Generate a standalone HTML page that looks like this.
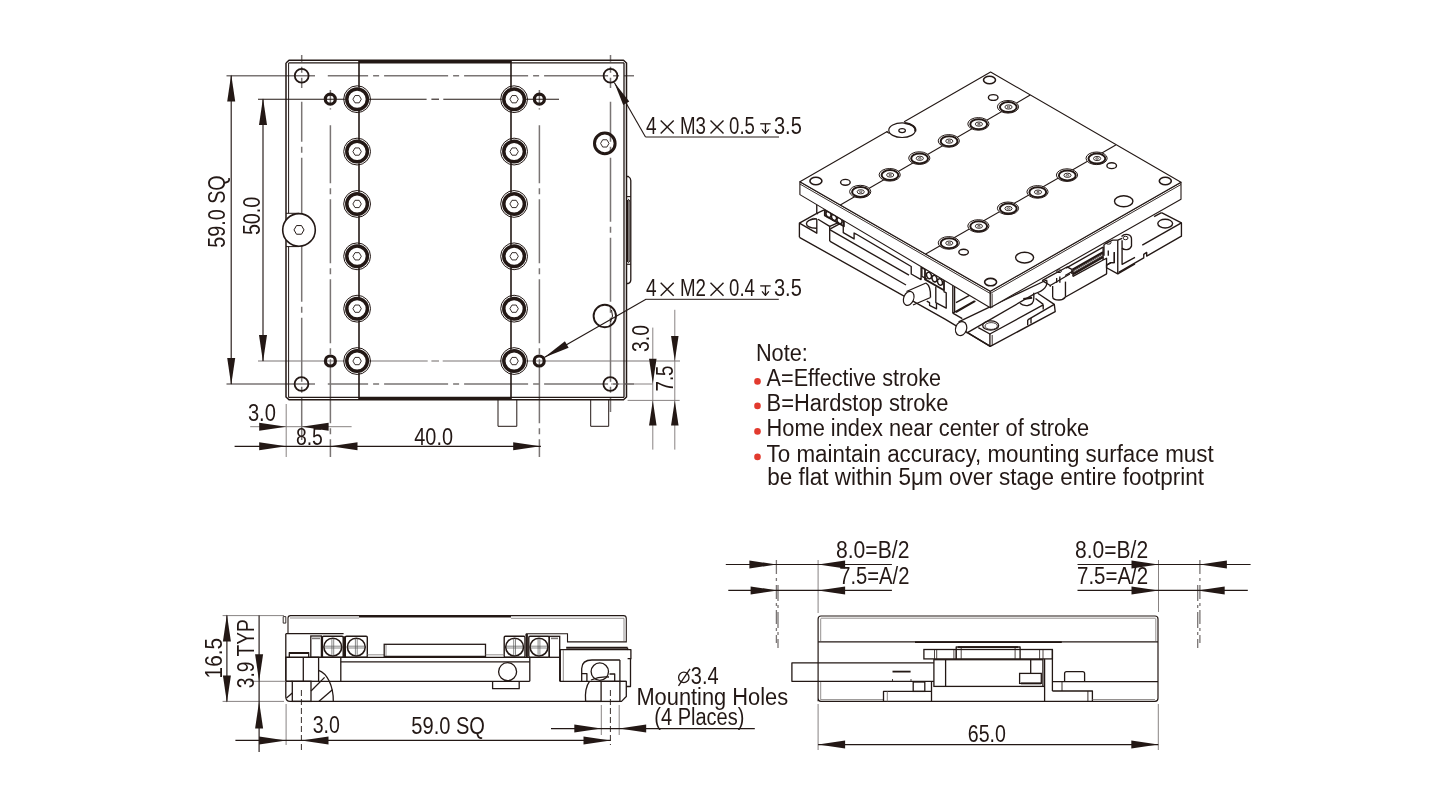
<!DOCTYPE html>
<html><head><meta charset="utf-8"><style>
html,body{margin:0;padding:0;background:#fff;overflow:hidden;width:1438px;height:812px;}
svg{display:block;will-change:transform;}
text{font-family:"Liberation Sans",sans-serif;}
</style></head><body>
<svg width="1438" height="812" viewBox="0 0 1438 812">
<rect width="1438" height="812" fill="#fff"/>
<line x1="301.70" y1="55.00" x2="301.70" y2="88.00" stroke="#7a7574" stroke-width="1.5" stroke-dasharray="64 5 6 5" stroke-dashoffset="57.2"/>
<line x1="301.70" y1="101.70" x2="301.70" y2="440.00" stroke="#7a7574" stroke-width="1.5" stroke-dasharray="64 5 6 5" stroke-dashoffset="23.9"/>
<line x1="610.50" y1="55.00" x2="610.50" y2="88.00" stroke="#7a7574" stroke-width="1.5" stroke-dasharray="64 5 6 5" stroke-dashoffset="57.2"/>
<line x1="610.50" y1="101.70" x2="610.50" y2="412.00" stroke="#7a7574" stroke-width="1.5" stroke-dasharray="64 5 6 5" stroke-dashoffset="23.9"/>
<line x1="330.40" y1="90.00" x2="330.40" y2="109.60" stroke="#7a7574" stroke-width="1.5" stroke-dasharray="64 5 6 5" stroke-dashoffset="50.8"/>
<line x1="330.40" y1="125.30" x2="330.40" y2="457.00" stroke="#7a7574" stroke-width="1.5" stroke-dasharray="64 5 6 5" stroke-dashoffset="6.1"/>
<line x1="539.40" y1="90.00" x2="539.40" y2="109.60" stroke="#7a7574" stroke-width="1.5" stroke-dasharray="64 5 6 5" stroke-dashoffset="50.8"/>
<line x1="539.40" y1="125.30" x2="539.40" y2="457.00" stroke="#7a7574" stroke-width="1.5" stroke-dasharray="64 5 6 5" stroke-dashoffset="6.1"/>
<line x1="327.80" y1="75.70" x2="634.00" y2="75.70" stroke="#7a7574" stroke-width="1.5" stroke-dasharray="64 5 6 5" stroke-dashoffset="23.7"/>
<line x1="327.80" y1="384.00" x2="634.00" y2="384.00" stroke="#7a7574" stroke-width="1.5" stroke-dasharray="64 5 6 5" stroke-dashoffset="23.7"/>
<line x1="226.50" y1="75.70" x2="315.00" y2="75.70" stroke="#7a7574" stroke-width="1.4" />
<line x1="226.50" y1="384.00" x2="315.00" y2="384.00" stroke="#7a7574" stroke-width="1.4" />
<line x1="258.00" y1="99.20" x2="426.60" y2="99.20" stroke="#231815" stroke-width="1.1" />
<line x1="431.40" y1="99.20" x2="439.00" y2="99.20" stroke="#231815" stroke-width="1.1" />
<line x1="443.30" y1="99.20" x2="559.00" y2="99.20" stroke="#231815" stroke-width="1.1" />
<line x1="258.00" y1="361.00" x2="427.70" y2="361.00" stroke="#7a7574" stroke-width="1.1" />
<line x1="431.40" y1="361.00" x2="439.00" y2="361.00" stroke="#7a7574" stroke-width="1.1" />
<line x1="442.70" y1="361.00" x2="680.00" y2="361.00" stroke="#7a7574" stroke-width="1.1" />
<polyline points="286.00,63.00 289.00,60.30 623.50,60.30 626.50,63.00 626.50,397.00 623.50,399.80 289.00,399.80 286.00,397.00 286.00,63.00" fill="none" stroke="#231815" stroke-width="1.5" stroke-linejoin="round" />
<line x1="288.60" y1="63.00" x2="288.60" y2="213.30" stroke="#231815" stroke-width="1.0" />
<line x1="288.60" y1="246.60" x2="288.60" y2="397.50" stroke="#231815" stroke-width="1.0" />
<line x1="286.00" y1="213.30" x2="299.00" y2="213.30" stroke="#231815" stroke-width="1.0" />
<line x1="286.00" y1="246.60" x2="299.00" y2="246.60" stroke="#231815" stroke-width="1.0" />
<line x1="288.60" y1="62.90" x2="624.00" y2="62.90" stroke="#231815" stroke-width="1.3" />
<line x1="624.00" y1="62.90" x2="624.00" y2="397.30" stroke="#231815" stroke-width="1.3" />
<line x1="288.60" y1="397.30" x2="624.00" y2="397.30" stroke="#231815" stroke-width="1.3" />
<line x1="359.00" y1="61.80" x2="511.00" y2="61.80" stroke="#231815" stroke-width="2.4" />
<line x1="359.00" y1="398.40" x2="511.00" y2="398.40" stroke="#231815" stroke-width="2.4" />
<line x1="359.00" y1="60.50" x2="359.00" y2="399.50" stroke="#231815" stroke-width="1.6" />
<line x1="511.00" y1="60.50" x2="511.00" y2="399.50" stroke="#231815" stroke-width="1.6" />
<circle cx="357.10" cy="99.20" r="11.80" fill="#fff" stroke="#231815" stroke-width="0"/>
<circle cx="357.10" cy="99.20" r="13.40" fill="none" stroke="#231815" stroke-width="1.0"/>
<circle cx="357.10" cy="99.20" r="10.30" fill="none" stroke="#231815" stroke-width="3.5"/>
<polygon points="361.30,99.20 359.20,102.84 355.00,102.84 352.90,99.20 355.00,95.56 359.20,95.56" fill="none" stroke="#231815" stroke-width="0.9" stroke-linejoin="round" />
<circle cx="514.10" cy="99.20" r="11.80" fill="#fff" stroke="#231815" stroke-width="0"/>
<circle cx="514.10" cy="99.20" r="13.40" fill="none" stroke="#231815" stroke-width="1.0"/>
<circle cx="514.10" cy="99.20" r="10.30" fill="none" stroke="#231815" stroke-width="3.5"/>
<polygon points="518.30,99.20 516.20,102.84 512.00,102.84 509.90,99.20 512.00,95.56 516.20,95.56" fill="none" stroke="#231815" stroke-width="0.9" stroke-linejoin="round" />
<circle cx="357.10" cy="151.57" r="11.80" fill="#fff" stroke="#231815" stroke-width="0"/>
<circle cx="357.10" cy="151.57" r="13.40" fill="none" stroke="#231815" stroke-width="1.0"/>
<circle cx="357.10" cy="151.57" r="10.30" fill="none" stroke="#231815" stroke-width="3.5"/>
<polygon points="361.30,151.57 359.20,155.21 355.00,155.21 352.90,151.57 355.00,147.93 359.20,147.93" fill="none" stroke="#231815" stroke-width="0.9" stroke-linejoin="round" />
<circle cx="514.10" cy="151.57" r="11.80" fill="#fff" stroke="#231815" stroke-width="0"/>
<circle cx="514.10" cy="151.57" r="13.40" fill="none" stroke="#231815" stroke-width="1.0"/>
<circle cx="514.10" cy="151.57" r="10.30" fill="none" stroke="#231815" stroke-width="3.5"/>
<polygon points="518.30,151.57 516.20,155.21 512.00,155.21 509.90,151.57 512.00,147.93 516.20,147.93" fill="none" stroke="#231815" stroke-width="0.9" stroke-linejoin="round" />
<circle cx="357.10" cy="203.94" r="11.80" fill="#fff" stroke="#231815" stroke-width="0"/>
<circle cx="357.10" cy="203.94" r="13.40" fill="none" stroke="#231815" stroke-width="1.0"/>
<circle cx="357.10" cy="203.94" r="10.30" fill="none" stroke="#231815" stroke-width="3.5"/>
<polygon points="361.30,203.94 359.20,207.58 355.00,207.58 352.90,203.94 355.00,200.30 359.20,200.30" fill="none" stroke="#231815" stroke-width="0.9" stroke-linejoin="round" />
<circle cx="514.10" cy="203.94" r="11.80" fill="#fff" stroke="#231815" stroke-width="0"/>
<circle cx="514.10" cy="203.94" r="13.40" fill="none" stroke="#231815" stroke-width="1.0"/>
<circle cx="514.10" cy="203.94" r="10.30" fill="none" stroke="#231815" stroke-width="3.5"/>
<polygon points="518.30,203.94 516.20,207.58 512.00,207.58 509.90,203.94 512.00,200.30 516.20,200.30" fill="none" stroke="#231815" stroke-width="0.9" stroke-linejoin="round" />
<circle cx="357.10" cy="256.31" r="11.80" fill="#fff" stroke="#231815" stroke-width="0"/>
<circle cx="357.10" cy="256.31" r="13.40" fill="none" stroke="#231815" stroke-width="1.0"/>
<circle cx="357.10" cy="256.31" r="10.30" fill="none" stroke="#231815" stroke-width="3.5"/>
<polygon points="361.30,256.31 359.20,259.95 355.00,259.95 352.90,256.31 355.00,252.67 359.20,252.67" fill="none" stroke="#231815" stroke-width="0.9" stroke-linejoin="round" />
<circle cx="514.10" cy="256.31" r="11.80" fill="#fff" stroke="#231815" stroke-width="0"/>
<circle cx="514.10" cy="256.31" r="13.40" fill="none" stroke="#231815" stroke-width="1.0"/>
<circle cx="514.10" cy="256.31" r="10.30" fill="none" stroke="#231815" stroke-width="3.5"/>
<polygon points="518.30,256.31 516.20,259.95 512.00,259.95 509.90,256.31 512.00,252.67 516.20,252.67" fill="none" stroke="#231815" stroke-width="0.9" stroke-linejoin="round" />
<circle cx="357.10" cy="308.68" r="11.80" fill="#fff" stroke="#231815" stroke-width="0"/>
<circle cx="357.10" cy="308.68" r="13.40" fill="none" stroke="#231815" stroke-width="1.0"/>
<circle cx="357.10" cy="308.68" r="10.30" fill="none" stroke="#231815" stroke-width="3.5"/>
<polygon points="361.30,308.68 359.20,312.32 355.00,312.32 352.90,308.68 355.00,305.04 359.20,305.04" fill="none" stroke="#231815" stroke-width="0.9" stroke-linejoin="round" />
<circle cx="514.10" cy="308.68" r="11.80" fill="#fff" stroke="#231815" stroke-width="0"/>
<circle cx="514.10" cy="308.68" r="13.40" fill="none" stroke="#231815" stroke-width="1.0"/>
<circle cx="514.10" cy="308.68" r="10.30" fill="none" stroke="#231815" stroke-width="3.5"/>
<polygon points="518.30,308.68 516.20,312.32 512.00,312.32 509.90,308.68 512.00,305.04 516.20,305.04" fill="none" stroke="#231815" stroke-width="0.9" stroke-linejoin="round" />
<circle cx="357.10" cy="361.05" r="11.80" fill="#fff" stroke="#231815" stroke-width="0"/>
<circle cx="357.10" cy="361.05" r="13.40" fill="none" stroke="#231815" stroke-width="1.0"/>
<circle cx="357.10" cy="361.05" r="10.30" fill="none" stroke="#231815" stroke-width="3.5"/>
<polygon points="361.30,361.05 359.20,364.69 355.00,364.69 352.90,361.05 355.00,357.41 359.20,357.41" fill="none" stroke="#231815" stroke-width="0.9" stroke-linejoin="round" />
<circle cx="514.10" cy="361.05" r="11.80" fill="#fff" stroke="#231815" stroke-width="0"/>
<circle cx="514.10" cy="361.05" r="13.40" fill="none" stroke="#231815" stroke-width="1.0"/>
<circle cx="514.10" cy="361.05" r="10.30" fill="none" stroke="#231815" stroke-width="3.5"/>
<polygon points="518.30,361.05 516.20,364.69 512.00,364.69 509.90,361.05 512.00,357.41 516.20,357.41" fill="none" stroke="#231815" stroke-width="0.9" stroke-linejoin="round" />
<circle cx="301.70" cy="75.70" r="6.90" fill="none" stroke="#231815" stroke-width="1.8"/>
<circle cx="610.50" cy="75.70" r="6.90" fill="none" stroke="#231815" stroke-width="1.8"/>
<circle cx="301.50" cy="384.00" r="6.90" fill="none" stroke="#231815" stroke-width="1.8"/>
<circle cx="610.30" cy="384.00" r="6.90" fill="none" stroke="#231815" stroke-width="1.8"/>
<circle cx="330.30" cy="99.20" r="5.00" fill="none" stroke="#231815" stroke-width="3.2"/>
<circle cx="539.40" cy="99.20" r="5.00" fill="none" stroke="#231815" stroke-width="3.2"/>
<circle cx="330.40" cy="361.00" r="5.00" fill="none" stroke="#231815" stroke-width="3.2"/>
<circle cx="539.20" cy="361.00" r="5.00" fill="none" stroke="#231815" stroke-width="3.2"/>
<circle cx="604.80" cy="143.40" r="10.30" fill="none" stroke="#231815" stroke-width="3.0"/>
<polygon points="609.00,143.40 606.90,147.04 602.70,147.04 600.60,143.40 602.70,139.76 606.90,139.76" fill="none" stroke="#231815" stroke-width="0.9" stroke-linejoin="round" />
<circle cx="604.80" cy="316.00" r="11.20" fill="none" stroke="#231815" stroke-width="1.9"/>
<path d="M611.5,310 Q614,316 610.5,322" fill="none" stroke="#231815" stroke-width="1.0" />
<circle cx="299.00" cy="229.90" r="16.30" fill="#fff" stroke="#231815" stroke-width="1.6"/>
<polygon points="304.00,229.90 301.50,234.23 296.50,234.23 294.00,229.90 296.50,225.57 301.50,225.57" fill="none" stroke="#231815" stroke-width="1.0" stroke-linejoin="round" />
<path d="M626.5,176.5 L628.3,176.5 Q630.8,177.8 630.8,180.5 L630.8,280 Q630.8,282.5 628.3,283.5 L626.5,283.5" fill="none" stroke="#231815" stroke-width="1.3" />
<line x1="626.50" y1="196.60" x2="630.80" y2="196.60" stroke="#231815" stroke-width="1.1" />
<line x1="626.50" y1="264.30" x2="630.80" y2="264.30" stroke="#231815" stroke-width="1.1" />
<line x1="627.60" y1="200.00" x2="627.60" y2="262.00" stroke="#231815" stroke-width="2.0" />
<path d="M628,199 Q629.8,199.5 629.8,202 L629.8,260 Q629.8,262.5 628,263" fill="none" stroke="#231815" stroke-width="0.9" />
<polyline points="498.00,399.80 498.00,426.30 516.80,426.30 516.80,399.80" fill="none" stroke="#231815" stroke-width="1.0" stroke-linejoin="round" />
<polyline points="590.70,399.80 590.70,426.30 608.70,426.30 608.70,399.80" fill="none" stroke="#231815" stroke-width="1.0" stroke-linejoin="round" />
<line x1="231.20" y1="75.70" x2="231.20" y2="384.00" stroke="#231815" stroke-width="1.15" />
<polygon points="231.20,74.50 235.20,101.50 227.20,101.50" fill="#231815"/>
<polygon points="231.20,385.00 227.20,358.00 235.20,358.00" fill="#231815"/>
<line x1="263.00" y1="99.20" x2="263.00" y2="361.00" stroke="#231815" stroke-width="1.15" />
<polygon points="263.00,98.00 267.00,125.00 259.00,125.00" fill="#231815"/>
<polygon points="263.00,362.00 259.00,335.00 267.00,335.00" fill="#231815"/>
<text x="224.80" y="211.00" font-size="23.00" fill="#231815" text-anchor="middle" textLength="72.4" lengthAdjust="spacingAndGlyphs" transform="rotate(-90 225.30 211.00)" >59.0 SQ</text>
<text x="259.10" y="215.40" font-size="23.00" fill="#231815" text-anchor="middle" textLength="38.4" lengthAdjust="spacingAndGlyphs" transform="rotate(-90 259.60 215.40)" >50.0</text>
<line x1="286.20" y1="404.00" x2="286.20" y2="457.00" stroke="#7a7574" stroke-width="0.9" />
<line x1="250.20" y1="426.70" x2="351.60" y2="426.70" stroke="#7a7574" stroke-width="0.9" />
<polygon points="286.20,426.70 259.20,430.70 259.20,422.70" fill="#231815"/>
<polygon points="301.60,426.70 328.60,422.70 328.60,430.70" fill="#231815"/>
<line x1="234.60" y1="446.40" x2="540.90" y2="446.40" stroke="#231815" stroke-width="1.2" />
<polygon points="286.20,446.20 259.20,450.20 259.20,442.20" fill="#231815"/>
<polygon points="330.50,446.20 357.50,442.20 357.50,450.20" fill="#231815"/>
<polygon points="540.20,446.20 513.20,450.20 513.20,442.20" fill="#231815"/>
<text x="247.90" y="420.50" font-size="23.00" fill="#231815" text-anchor="start" textLength="28.0" lengthAdjust="spacingAndGlyphs" >3.0</text>
<text x="295.90" y="444.50" font-size="23.00" fill="#231815" text-anchor="start" textLength="27.0" lengthAdjust="spacingAndGlyphs" >8.5</text>
<text x="414.30" y="444.50" font-size="23.00" fill="#231815" text-anchor="start" textLength="38.7" lengthAdjust="spacingAndGlyphs" >40.0</text>
<line x1="652.80" y1="327.60" x2="652.80" y2="449.60" stroke="#7a7574" stroke-width="0.9" />
<line x1="674.80" y1="309.80" x2="674.80" y2="449.60" stroke="#7a7574" stroke-width="0.9" />
<line x1="611.00" y1="384.00" x2="652.80" y2="384.00" stroke="#7a7574" stroke-width="0.9" />
<line x1="627.60" y1="400.40" x2="679.70" y2="400.40" stroke="#7a7574" stroke-width="0.9" />
<polygon points="652.80,383.70 649.05,358.70 656.55,358.70" fill="#231815"/>
<polygon points="652.80,400.40 656.55,425.40 649.05,425.40" fill="#231815"/>
<polygon points="674.80,361.00 671.05,336.00 678.55,336.00" fill="#231815"/>
<polygon points="674.80,400.40 678.55,425.40 671.05,425.40" fill="#231815"/>
<text x="648.70" y="338.00" font-size="23.00" fill="#231815" text-anchor="middle" textLength="27.0" lengthAdjust="spacingAndGlyphs" transform="rotate(-90 649.20 338.00)" >3.0</text>
<text x="672.70" y="378.00" font-size="23.00" fill="#231815" text-anchor="middle" textLength="26.0" lengthAdjust="spacingAndGlyphs" transform="rotate(-90 673.20 378.00)" >7.5</text>
<line x1="645.50" y1="137.00" x2="614.30" y2="82.50" stroke="#231815" stroke-width="1.1" />
<polygon points="614.30,82.50 629.26,101.59 623.19,105.07" fill="#231815"/>
<line x1="645.50" y1="137.00" x2="779.00" y2="137.00" stroke="#231815" stroke-width="1.0" />
<line x1="646.00" y1="299.30" x2="544.20" y2="357.50" stroke="#231815" stroke-width="1.1" />
<polygon points="544.20,357.50 564.91,341.34 568.63,347.85" fill="#231815"/>
<line x1="645.80" y1="299.30" x2="778.80" y2="299.30" stroke="#231815" stroke-width="1.0" />
<text x="646.10" y="134.30" font-size="23.00" fill="#231815" text-anchor="start" textLength="10.6" lengthAdjust="spacingAndGlyphs" >4</text>
<line x1="660.70" y1="120.60" x2="673.70" y2="133.60" stroke="#231815" stroke-width="1.4" />
<line x1="660.70" y1="133.60" x2="673.70" y2="120.60" stroke="#231815" stroke-width="1.4" />
<text x="680.00" y="134.30" font-size="23.00" fill="#231815" text-anchor="start" textLength="26.0" lengthAdjust="spacingAndGlyphs" >M3</text>
<line x1="710.50" y1="120.60" x2="723.50" y2="133.60" stroke="#231815" stroke-width="1.4" />
<line x1="710.50" y1="133.60" x2="723.50" y2="120.60" stroke="#231815" stroke-width="1.4" />
<text x="729.10" y="134.30" font-size="23.00" fill="#231815" text-anchor="start" textLength="25.8" lengthAdjust="spacingAndGlyphs" >0.5</text>
<line x1="760.20" y1="123.80" x2="770.70" y2="123.80" stroke="#231815" stroke-width="1.3" />
<line x1="765.45" y1="123.80" x2="765.45" y2="133.30" stroke="#231815" stroke-width="1.3" />
<polyline points="762.00,129.30 765.45,133.30 768.90,129.30" fill="none" stroke="#231815" stroke-width="1.3" stroke-linejoin="round" />
<text x="774.00" y="134.30" font-size="23.00" fill="#231815" text-anchor="start" textLength="27.8" lengthAdjust="spacingAndGlyphs" >3.5</text>
<text x="646.10" y="296.40" font-size="23.00" fill="#231815" text-anchor="start" textLength="10.6" lengthAdjust="spacingAndGlyphs" >4</text>
<line x1="660.70" y1="282.70" x2="673.70" y2="295.70" stroke="#231815" stroke-width="1.4" />
<line x1="660.70" y1="295.70" x2="673.70" y2="282.70" stroke="#231815" stroke-width="1.4" />
<text x="680.00" y="296.40" font-size="23.00" fill="#231815" text-anchor="start" textLength="26.0" lengthAdjust="spacingAndGlyphs" >M2</text>
<line x1="710.50" y1="282.70" x2="723.50" y2="295.70" stroke="#231815" stroke-width="1.4" />
<line x1="710.50" y1="295.70" x2="723.50" y2="282.70" stroke="#231815" stroke-width="1.4" />
<text x="729.10" y="296.40" font-size="23.00" fill="#231815" text-anchor="start" textLength="25.8" lengthAdjust="spacingAndGlyphs" >0.4</text>
<line x1="760.20" y1="285.90" x2="770.70" y2="285.90" stroke="#231815" stroke-width="1.3" />
<line x1="765.45" y1="285.90" x2="765.45" y2="295.40" stroke="#231815" stroke-width="1.3" />
<polyline points="762.00,291.40 765.45,295.40 768.90,291.40" fill="none" stroke="#231815" stroke-width="1.3" stroke-linejoin="round" />
<text x="774.00" y="296.40" font-size="23.00" fill="#231815" text-anchor="start" textLength="27.8" lengthAdjust="spacingAndGlyphs" >3.5</text>
<text x="755.90" y="361.40" font-size="23.00" fill="#231815" text-anchor="start" textLength="52.0" lengthAdjust="spacingAndGlyphs" >Note:</text>
<text x="766.60" y="386.10" font-size="23.00" fill="#231815" text-anchor="start" textLength="174.4" lengthAdjust="spacingAndGlyphs" >A=Effective stroke</text>
<circle cx="757.50" cy="381.40" r="3.30" fill="#e23a2e" stroke="#231815" stroke-width="0"/>
<text x="766.60" y="410.60" font-size="23.00" fill="#231815" text-anchor="start" textLength="181.9" lengthAdjust="spacingAndGlyphs" >B=Hardstop stroke</text>
<circle cx="757.50" cy="405.90" r="3.30" fill="#e23a2e" stroke="#231815" stroke-width="0"/>
<text x="766.60" y="436.10" font-size="23.00" fill="#231815" text-anchor="start" textLength="322.6" lengthAdjust="spacingAndGlyphs" >Home index near center of stroke</text>
<circle cx="757.50" cy="431.40" r="3.30" fill="#e23a2e" stroke="#231815" stroke-width="0"/>
<text x="766.60" y="461.60" font-size="23.00" fill="#231815" text-anchor="start" textLength="447.0" lengthAdjust="spacingAndGlyphs" >To maintain accuracy, mounting surface must</text>
<circle cx="757.50" cy="456.90" r="3.30" fill="#e23a2e" stroke="#231815" stroke-width="0"/>
<text x="767.30" y="484.80" font-size="23.00" fill="#231815" text-anchor="start" textLength="436.7" lengthAdjust="spacingAndGlyphs" >be flat within 5&#956;m over stage entire footprint</text>
<path d="M288,633.7 L288,618 Q288,615.6 290.5,615.6 L623.5,615.6 Q626.3,615.6 626.3,618.5 L626.3,641.9 L567.5,641.9 L567.5,633.7 L526.1,633.7" fill="none" stroke="#231815" stroke-width="1.1" />
<line x1="290.00" y1="618.00" x2="359.00" y2="618.00" stroke="#7a7574" stroke-width="0.8" />
<line x1="511.00" y1="618.30" x2="624.00" y2="618.30" stroke="#7a7574" stroke-width="0.8" />
<line x1="624.00" y1="618.30" x2="624.00" y2="641.00" stroke="#7a7574" stroke-width="0.8" />
<line x1="359.00" y1="616.40" x2="511.00" y2="616.40" stroke="#231815" stroke-width="2.0" />
<polyline points="283.20,616.60 285.80,616.60 285.80,623.10 283.20,623.10 283.20,616.60" fill="none" stroke="#231815" stroke-width="0.9" stroke-linejoin="round" />
<line x1="285.80" y1="633.70" x2="343.60" y2="633.70" stroke="#231815" stroke-width="1.3" />
<line x1="285.80" y1="633.70" x2="285.80" y2="697.00" stroke="#231815" stroke-width="1.3" />
<path d="M285.8,697 Q286,701.4 290,701.4 L601,701.4" fill="none" stroke="#231815" stroke-width="1.3" />
<line x1="285.80" y1="657.30" x2="529.80" y2="657.30" stroke="#231815" stroke-width="1.3" />
<polyline points="289.30,657.30 289.30,652.60 308.70,652.60 308.70,657.30" fill="none" stroke="#231815" stroke-width="1.3" stroke-linejoin="round" />
<line x1="289.30" y1="653.20" x2="308.70" y2="653.20" stroke="#231815" stroke-width="1.6" />
<rect x="310.80" y="636.00" width="10.60" height="21.30" fill="none" stroke="#231815" stroke-width="1.3"/>
<line x1="312.00" y1="638.40" x2="320.00" y2="638.40" stroke="#7a7574" stroke-width="1.6" />
<rect x="322.40" y="636.3" width="20.80" height="21" rx="1.2" fill="none" stroke="#231815" stroke-width="1.4"/>
<circle cx="332.80" cy="647.10" r="8.90" fill="none" stroke="#231815" stroke-width="1.6"/>
<line x1="324.30" y1="646.20" x2="341.30" y2="646.20" stroke="#555" stroke-width="0.7" />
<line x1="331.90" y1="638.60" x2="331.90" y2="655.60" stroke="#555" stroke-width="0.7" />
<line x1="324.30" y1="648.00" x2="341.30" y2="648.00" stroke="#555" stroke-width="0.7" />
<line x1="333.70" y1="638.60" x2="333.70" y2="655.60" stroke="#555" stroke-width="0.7" />
<rect x="345.30" y="636.3" width="22.00" height="21" rx="1.2" fill="none" stroke="#231815" stroke-width="1.4"/>
<circle cx="356.30" cy="647.10" r="8.90" fill="none" stroke="#231815" stroke-width="1.6"/>
<line x1="347.80" y1="646.20" x2="364.80" y2="646.20" stroke="#555" stroke-width="0.7" />
<line x1="355.40" y1="638.60" x2="355.40" y2="655.60" stroke="#555" stroke-width="0.7" />
<line x1="347.80" y1="648.00" x2="364.80" y2="648.00" stroke="#555" stroke-width="0.7" />
<line x1="357.20" y1="638.60" x2="357.20" y2="655.60" stroke="#555" stroke-width="0.7" />
<rect x="504.20" y="636.3" width="20.80" height="21" rx="1.2" fill="none" stroke="#231815" stroke-width="1.4"/>
<circle cx="514.60" cy="647.10" r="8.90" fill="none" stroke="#231815" stroke-width="1.6"/>
<line x1="506.10" y1="646.20" x2="523.10" y2="646.20" stroke="#555" stroke-width="0.7" />
<line x1="513.70" y1="638.60" x2="513.70" y2="655.60" stroke="#555" stroke-width="0.7" />
<line x1="506.10" y1="648.00" x2="523.10" y2="648.00" stroke="#555" stroke-width="0.7" />
<line x1="515.50" y1="638.60" x2="515.50" y2="655.60" stroke="#555" stroke-width="0.7" />
<rect x="528.80" y="636.3" width="20.40" height="21" rx="1.2" fill="none" stroke="#231815" stroke-width="1.4"/>
<circle cx="539.00" cy="647.10" r="8.90" fill="none" stroke="#231815" stroke-width="1.6"/>
<line x1="530.50" y1="646.20" x2="547.50" y2="646.20" stroke="#555" stroke-width="0.7" />
<line x1="538.10" y1="638.60" x2="538.10" y2="655.60" stroke="#555" stroke-width="0.7" />
<line x1="530.50" y1="648.00" x2="547.50" y2="648.00" stroke="#555" stroke-width="0.7" />
<line x1="539.90" y1="638.60" x2="539.90" y2="655.60" stroke="#555" stroke-width="0.7" />
<line x1="343.60" y1="636.30" x2="344.70" y2="657.30" stroke="#231815" stroke-width="0.0" />
<line x1="344.20" y1="636.30" x2="344.20" y2="657.30" stroke="#231815" stroke-width="2.0" />
<line x1="526.90" y1="634.00" x2="526.90" y2="657.30" stroke="#231815" stroke-width="2.0" />
<line x1="526.10" y1="633.70" x2="526.10" y2="636.30" stroke="#231815" stroke-width="1.3" />
<line x1="367.30" y1="654.80" x2="384.20" y2="654.80" stroke="#7a7574" stroke-width="0.8" />
<rect x="384.20" y="644.30" width="101.30" height="13.00" fill="none" stroke="#231815" stroke-width="1.3"/>
<line x1="384.20" y1="656.60" x2="485.50" y2="656.60" stroke="#231815" stroke-width="1.8" />
<line x1="386.00" y1="645.00" x2="386.00" y2="656.00" stroke="#7a7574" stroke-width="0.8" />
<line x1="485.50" y1="654.80" x2="504.40" y2="654.80" stroke="#7a7574" stroke-width="0.8" />
<rect x="549.30" y="636.30" width="10.40" height="21.00" fill="none" stroke="#231815" stroke-width="1.3"/>
<line x1="551.00" y1="638.40" x2="558.00" y2="638.40" stroke="#7a7574" stroke-width="1.6" />
<line x1="559.70" y1="657.30" x2="559.70" y2="681.30" stroke="#231815" stroke-width="1.3" />
<rect x="285.80" y="657.30" width="32.80" height="24.00" fill="none" stroke="#231815" stroke-width="1.3"/>
<line x1="303.30" y1="657.30" x2="303.30" y2="681.30" stroke="#231815" stroke-width="1.3" />
<line x1="340.80" y1="657.30" x2="340.80" y2="681.30" stroke="#231815" stroke-width="1.3" />
<line x1="340.80" y1="661.90" x2="529.80" y2="661.90" stroke="#231815" stroke-width="1.3" />
<line x1="529.80" y1="657.30" x2="529.80" y2="681.30" stroke="#231815" stroke-width="1.3" />
<line x1="318.60" y1="681.30" x2="529.80" y2="681.30" stroke="#231815" stroke-width="1.3" />
<line x1="285.80" y1="681.30" x2="292.30" y2="681.30" stroke="#231815" stroke-width="1.3" />
<rect x="292.30" y="681.30" width="18.70" height="20.10" fill="none" stroke="#231815" stroke-width="1.3"/>
<path d="M318.6,670.3 C327,673 333.5,686 333.3,701.4" fill="none" stroke="#231815" stroke-width="1.3" />
<line x1="311.00" y1="691.00" x2="324.60" y2="677.40" stroke="#231815" stroke-width="1.3" />
<line x1="318.80" y1="701.40" x2="332.40" y2="689.70" stroke="#231815" stroke-width="1.3" />
<line x1="286.50" y1="698.00" x2="292.30" y2="693.00" stroke="#231815" stroke-width="1.3" />
<circle cx="507.60" cy="671.70" r="9.00" fill="none" stroke="#231815" stroke-width="1.3"/>
<polyline points="492.60,681.30 492.60,688.70 519.20,688.70 519.20,681.30" fill="none" stroke="#231815" stroke-width="1.3" stroke-linejoin="round" />
<line x1="566.20" y1="647.70" x2="627.60" y2="647.70" stroke="#231815" stroke-width="2.0" />
<polyline points="560.30,681.30 560.30,649.60 627.60,649.60 627.60,647.70" fill="none" stroke="#231815" stroke-width="1.3" stroke-linejoin="round" />
<line x1="563.30" y1="650.00" x2="563.30" y2="681.00" stroke="#7a7574" stroke-width="0.8" />
<polyline points="627.60,649.60 630.90,649.60 630.90,658.70 627.60,658.70" fill="none" stroke="#231815" stroke-width="1.3" stroke-linejoin="round" />
<line x1="619.90" y1="660.00" x2="619.90" y2="681.30" stroke="#231815" stroke-width="1.3" />
<polyline points="630.50,658.70 630.50,686.50 626.30,686.50" fill="none" stroke="#231815" stroke-width="1.3" stroke-linejoin="round" />
<path d="M581.7,681.3 L581.7,668.4 Q582,660 592,660 L619.9,660" fill="none" stroke="#231815" stroke-width="1.3" />
<polyline points="581.70,673.60 586.90,673.60 586.90,681.30" fill="none" stroke="#231815" stroke-width="1.3" stroke-linejoin="round" />
<circle cx="599.80" cy="671.60" r="8.70" fill="none" stroke="#231815" stroke-width="1.3"/>
<polyline points="609.50,674.00 614.70,674.00 614.70,681.30" fill="none" stroke="#231815" stroke-width="1.3" stroke-linejoin="round" />
<path d="M591,680 Q600,676 609,677" fill="none" stroke="#231815" stroke-width="1.3" />
<line x1="559.70" y1="681.30" x2="626.30" y2="681.30" stroke="#231815" stroke-width="1.3" />
<rect x="601.10" y="681.30" width="18.80" height="20.10" fill="none" stroke="#231815" stroke-width="1.3"/>
<polyline points="619.90,681.30 626.30,681.30 626.30,696.50 621.50,701.40 619.90,701.40" fill="none" stroke="#231815" stroke-width="1.3" stroke-linejoin="round" />
<path d="M589.5,681.3 Q584.5,688 585.6,701.4" fill="none" stroke="#231815" stroke-width="1.3" />
<line x1="585.60" y1="701.40" x2="601.10" y2="701.40" stroke="#231815" stroke-width="1.3" />
<line x1="301.40" y1="690.00" x2="301.40" y2="752.00" stroke="#231815" stroke-width="0.9" stroke-dasharray="6 3"/>
<line x1="610.40" y1="690.00" x2="610.40" y2="745.00" stroke="#231815" stroke-width="0.9" stroke-dasharray="6 3"/>
<line x1="222.60" y1="615.60" x2="284.00" y2="615.60" stroke="#7a7574" stroke-width="0.9" />
<line x1="222.60" y1="701.40" x2="284.00" y2="701.40" stroke="#7a7574" stroke-width="0.9" />
<line x1="250.00" y1="681.30" x2="286.00" y2="681.30" stroke="#7a7574" stroke-width="0.9" />
<line x1="226.90" y1="615.60" x2="226.90" y2="701.40" stroke="#231815" stroke-width="1.15" />
<polygon points="226.90,614.60 230.90,641.60 222.90,641.60" fill="#231815"/>
<polygon points="226.90,702.40 222.90,675.40 230.90,675.40" fill="#231815"/>
<line x1="259.10" y1="615.60" x2="259.10" y2="752.00" stroke="#231815" stroke-width="1.15" />
<polygon points="259.10,681.30 255.10,654.30 263.10,654.30" fill="#231815"/>
<polygon points="259.10,701.40 263.10,728.40 255.10,728.40" fill="#231815"/>
<text x="221.30" y="657.70" font-size="23.00" fill="#231815" text-anchor="middle" textLength="40.4" lengthAdjust="spacingAndGlyphs" transform="rotate(-90 221.80 657.70)" >16.5</text>
<text x="253.80" y="653.20" font-size="23.00" fill="#231815" text-anchor="middle" textLength="69.0" lengthAdjust="spacingAndGlyphs" transform="rotate(-90 254.30 653.20)" >3.9 TYP</text>
<line x1="286.10" y1="704.00" x2="286.10" y2="745.00" stroke="#7a7574" stroke-width="0.9" />
<line x1="235.40" y1="740.40" x2="610.50" y2="740.40" stroke="#231815" stroke-width="1.2" />
<polygon points="286.10,740.40 259.10,744.40 259.10,736.40" fill="#231815"/>
<polygon points="301.50,740.40 328.50,736.40 328.50,744.40" fill="#231815"/>
<polygon points="610.50,740.40 583.50,744.40 583.50,736.40" fill="#231815"/>
<text x="312.70" y="733.00" font-size="23.00" fill="#231815" text-anchor="start" textLength="27.2" lengthAdjust="spacingAndGlyphs" >3.0</text>
<text x="411.30" y="733.70" font-size="23.00" fill="#231815" text-anchor="start" textLength="73.7" lengthAdjust="spacingAndGlyphs" >59.0 SQ</text>
<line x1="601.30" y1="705.00" x2="601.30" y2="735.00" stroke="#7a7574" stroke-width="0.9" />
<line x1="619.20" y1="705.00" x2="619.20" y2="735.00" stroke="#7a7574" stroke-width="0.9" />
<line x1="551.00" y1="728.60" x2="754.80" y2="728.60" stroke="#231815" stroke-width="1.2" />
<polygon points="601.30,728.60 574.30,732.60 574.30,724.60" fill="#231815"/>
<polygon points="619.20,728.60 646.20,724.60 646.20,732.60" fill="#231815"/>
<circle cx="683.80" cy="677.40" r="5.20" fill="none" stroke="#231815" stroke-width="1.3"/>
<line x1="678.50" y1="685.80" x2="690.00" y2="668.80" stroke="#231815" stroke-width="1.3" />
<text x="690.80" y="683.70" font-size="23.00" fill="#231815" text-anchor="start" textLength="27.8" lengthAdjust="spacingAndGlyphs" >3.4</text>
<text x="636.40" y="704.80" font-size="23.00" fill="#231815" text-anchor="start" textLength="151.8" lengthAdjust="spacingAndGlyphs" >Mounting Holes</text>
<text x="654.30" y="725.10" font-size="23.00" fill="#231815" text-anchor="start" textLength="90.1" lengthAdjust="spacingAndGlyphs" >(4 Places)</text>
<path d="M818.1,701.3 L818.1,619 Q818.1,616 821,616 L1155,616 Q1158,616 1158,619 L1158,698.3 Q1158,701.3 1155,701.3 L821,701.3 Q818.1,701.3 818.1,698.3" fill="none" stroke="#231815" stroke-width="1.2" />
<line x1="821.00" y1="618.20" x2="1155.50" y2="618.20" stroke="#7a7574" stroke-width="0.8" />
<line x1="820.70" y1="618.50" x2="820.70" y2="641.00" stroke="#7a7574" stroke-width="0.8" />
<line x1="1155.80" y1="618.50" x2="1155.80" y2="641.00" stroke="#7a7574" stroke-width="0.8" />
<line x1="818.10" y1="641.90" x2="1158.00" y2="641.90" stroke="#231815" stroke-width="1.1" />
<line x1="915.00" y1="642.20" x2="1061.80" y2="642.20" stroke="#231815" stroke-width="1.8" />
<polyline points="818.10,662.90 791.90,662.90 791.90,681.30 933.90,681.30" fill="none" stroke="#231815" stroke-width="1.3" stroke-linejoin="round" />
<line x1="818.10" y1="662.90" x2="933.90" y2="662.90" stroke="#231815" stroke-width="1.3" />
<line x1="892.50" y1="671.60" x2="910.60" y2="671.60" stroke="#231815" stroke-width="1.8" />
<line x1="892.50" y1="679.00" x2="892.50" y2="681.30" stroke="#231815" stroke-width="0.8" />
<line x1="911.00" y1="679.00" x2="911.00" y2="681.30" stroke="#231815" stroke-width="0.8" />
<line x1="820.70" y1="682.00" x2="820.70" y2="700.00" stroke="#7a7574" stroke-width="0.8" />
<line x1="821.00" y1="699.60" x2="883.50" y2="699.60" stroke="#7a7574" stroke-width="0.8" />
<polyline points="883.50,701.30 883.50,691.40 932.00,691.40" fill="none" stroke="#231815" stroke-width="1.3" stroke-linejoin="round" />
<line x1="887.30" y1="691.40" x2="887.30" y2="701.30" stroke="#7a7574" stroke-width="0.9" />
<rect x="913.20" y="682.00" width="11.60" height="9.40" fill="none" stroke="#231815" stroke-width="1.3"/>
<line x1="931.50" y1="681.30" x2="931.50" y2="701.30" stroke="#231815" stroke-width="1.3" />
<rect x="923.90" y="649.50" width="128.50" height="9.40" fill="none" stroke="#231815" stroke-width="1.3"/>
<line x1="934.50" y1="649.50" x2="934.50" y2="658.90" stroke="#231815" stroke-width="0.8" />
<line x1="936.70" y1="649.50" x2="936.70" y2="658.90" stroke="#231815" stroke-width="0.8" />
<line x1="953.90" y1="649.50" x2="953.90" y2="658.90" stroke="#231815" stroke-width="0.8" />
<line x1="956.20" y1="649.50" x2="956.20" y2="658.90" stroke="#231815" stroke-width="0.8" />
<line x1="1039.60" y1="649.50" x2="1039.60" y2="658.90" stroke="#231815" stroke-width="0.8" />
<line x1="1043.00" y1="649.50" x2="1043.00" y2="658.90" stroke="#231815" stroke-width="0.8" />
<polyline points="956.20,658.90 956.20,647.00 1020.10,647.00 1020.10,658.90" fill="none" stroke="#231815" stroke-width="1.3" stroke-linejoin="round" />
<line x1="958.00" y1="647.20" x2="1018.00" y2="647.20" stroke="#231815" stroke-width="1.8" />
<line x1="961.20" y1="647.00" x2="961.20" y2="658.90" stroke="#231815" stroke-width="0.8" />
<line x1="1015.10" y1="647.00" x2="1015.10" y2="658.90" stroke="#231815" stroke-width="0.8" />
<rect x="933.90" y="659.70" width="109.00" height="26.70" fill="none" stroke="#231815" stroke-width="1.3"/>
<line x1="945.60" y1="659.70" x2="945.60" y2="686.40" stroke="#231815" stroke-width="1.3" />
<line x1="1030.70" y1="659.70" x2="1030.70" y2="673.40" stroke="#231815" stroke-width="1.3" />
<rect x="1019.60" y="673.40" width="21.70" height="10.00" fill="none" stroke="#231815" stroke-width="1.3"/>
<line x1="1021.00" y1="683.40" x2="1041.00" y2="683.40" stroke="#231815" stroke-width="1.8" />
<line x1="1042.90" y1="686.40" x2="1044.60" y2="686.40" stroke="#231815" stroke-width="1.3" />
<line x1="1052.40" y1="649.50" x2="1052.40" y2="691.00" stroke="#231815" stroke-width="1.3" />
<line x1="1044.60" y1="658.90" x2="1044.60" y2="701.30" stroke="#231815" stroke-width="1.3" />
<line x1="1052.40" y1="681.60" x2="1158.00" y2="681.60" stroke="#231815" stroke-width="1.3" />
<polyline points="1052.40,691.00 1092.40,691.00 1092.40,701.30" fill="none" stroke="#231815" stroke-width="1.3" stroke-linejoin="round" />
<line x1="1062.00" y1="681.60" x2="1062.00" y2="691.00" stroke="#231815" stroke-width="0.9" />
<line x1="1087.90" y1="691.00" x2="1087.90" y2="701.30" stroke="#231815" stroke-width="0.9" />
<line x1="1092.40" y1="699.50" x2="1155.00" y2="699.50" stroke="#7a7574" stroke-width="0.8" />
<path d="M1064.6,681.6 L1064.6,673.6 Q1064.6,671.6 1066.6,671.6 L1082.6,671.6 Q1084.6,671.6 1084.6,673.6 L1084.6,681.6" fill="none" stroke="#231815" stroke-width="1.3" />
<line x1="818.10" y1="704.00" x2="818.10" y2="750.00" stroke="#7a7574" stroke-width="0.9" />
<line x1="1158.30" y1="704.00" x2="1158.30" y2="750.00" stroke="#7a7574" stroke-width="0.9" />
<line x1="818.10" y1="744.60" x2="1158.30" y2="744.60" stroke="#231815" stroke-width="1.2" />
<polygon points="818.10,744.60 845.10,740.60 845.10,748.60" fill="#231815"/>
<polygon points="1158.30,744.60 1131.30,748.60 1131.30,740.60" fill="#231815"/>
<text x="967.80" y="741.90" font-size="23.00" fill="#231815" text-anchor="start" textLength="38.1" lengthAdjust="spacingAndGlyphs" >65.0</text>
<line x1="818.10" y1="560.00" x2="818.10" y2="613.00" stroke="#7a7574" stroke-width="0.9" />
<line x1="1158.50" y1="560.00" x2="1158.50" y2="612.00" stroke="#7a7574" stroke-width="0.9" />
<line x1="776.40" y1="560.00" x2="776.40" y2="643.00" stroke="#7a7574" stroke-width="1.3" stroke-dasharray="14 4 3 4"/>
<line x1="778.00" y1="585.00" x2="778.00" y2="648.00" stroke="#7a7574" stroke-width="1.3" stroke-dasharray="16 4 3 4"/>
<line x1="1199.90" y1="560.00" x2="1199.90" y2="643.00" stroke="#7a7574" stroke-width="1.3" stroke-dasharray="14 4 3 4"/>
<line x1="1197.70" y1="585.00" x2="1197.70" y2="648.00" stroke="#7a7574" stroke-width="1.3" stroke-dasharray="16 4 3 4"/>
<line x1="725.80" y1="564.50" x2="891.90" y2="564.50" stroke="#231815" stroke-width="1.2" />
<line x1="728.30" y1="590.40" x2="891.90" y2="590.40" stroke="#231815" stroke-width="1.2" />
<polygon points="776.40,564.50 749.40,568.50 749.40,560.50" fill="#231815"/>
<polygon points="818.10,564.50 845.10,560.50 845.10,568.50" fill="#231815"/>
<polygon points="777.60,590.40 750.60,594.40 750.60,586.40" fill="#231815"/>
<polygon points="818.10,590.40 845.10,586.40 845.10,594.40" fill="#231815"/>
<line x1="1077.50" y1="564.50" x2="1250.60" y2="564.50" stroke="#231815" stroke-width="1.2" />
<line x1="1077.50" y1="590.40" x2="1247.80" y2="590.40" stroke="#231815" stroke-width="1.2" />
<polygon points="1158.50,564.50 1131.50,568.50 1131.50,560.50" fill="#231815"/>
<polygon points="1199.90,564.50 1226.90,560.50 1226.90,568.50" fill="#231815"/>
<polygon points="1158.50,590.40 1131.50,594.40 1131.50,586.40" fill="#231815"/>
<polygon points="1197.70,590.40 1224.70,586.40 1224.70,594.40" fill="#231815"/>
<text x="836.00" y="557.90" font-size="23.00" fill="#231815" text-anchor="start" textLength="73.4" lengthAdjust="spacingAndGlyphs" >8.0=B/2</text>
<text x="839.30" y="583.70" font-size="23.00" fill="#231815" text-anchor="start" textLength="70.1" lengthAdjust="spacingAndGlyphs" >7.5=A/2</text>
<text x="1075.00" y="557.90" font-size="23.00" fill="#231815" text-anchor="start" textLength="73.1" lengthAdjust="spacingAndGlyphs" >8.0=B/2</text>
<text x="1077.00" y="583.70" font-size="23.00" fill="#231815" text-anchor="start" textLength="71.1" lengthAdjust="spacingAndGlyphs" >7.5=A/2</text>
<polyline points="799.40,237.30 945.00,319.20 990.30,346.40" fill="none" stroke="#231815" stroke-width="1.35" stroke-linejoin="round" />
<polyline points="816.80,213.40 799.40,223.20 799.40,237.30" fill="none" stroke="#231815" stroke-width="1.35" stroke-linejoin="round" />
<polyline points="799.40,223.20 816.80,233.20 816.80,218.90" fill="none" stroke="#231815" stroke-width="1.35" stroke-linejoin="round" />
<path d="M816.8,218.9 C803,219 803,228.5 816.8,228.2" fill="none" stroke="#231815" stroke-width="1.35" />
<polyline points="816.77,204.16 816.77,213.39" fill="none" stroke="#231815" stroke-width="1.35" stroke-linejoin="round" />
<polyline points="816.77,213.39 818.00,214.01" fill="none" stroke="#231815" stroke-width="1.35" stroke-linejoin="round" />
<polyline points="818.00,219.24 829.70,226.33 829.70,241.10" fill="none" stroke="#231815" stroke-width="1.35" stroke-linejoin="round" />
<polyline points="829.70,226.33 838.94,222.32" fill="none" stroke="#231815" stroke-width="1.35" stroke-linejoin="round" />
<polyline points="830.32,228.79 839.56,223.86" fill="none" stroke="#231815" stroke-width="1.35" stroke-linejoin="round" />
<polyline points="816.77,213.39 824.78,209.70" fill="none" stroke="#231815" stroke-width="1.35" stroke-linejoin="round" />
<polyline points="810.00,219.55 813.69,218.32 816.77,218.94" fill="none" stroke="#231815" stroke-width="0.9" stroke-linejoin="round" />
<polyline points="829.70,229.60 909.00,275.20" fill="none" stroke="#231815" stroke-width="1.35" stroke-linejoin="round" />
<polyline points="829.70,241.10 906.00,285.00" fill="none" stroke="#231815" stroke-width="1.35" stroke-linejoin="round" />
<polyline points="843.27,219.25 843.27,232.65 854.10,238.95 854.10,233.04 856.07,234.03 911.23,266.53 911.23,274.02 921.08,279.54 921.08,267.52 925.02,269.49" fill="none" stroke="#231815" stroke-width="1.35" stroke-linejoin="round" />
<polygon points="824.80,209.70 843.90,220.50 843.90,226.30 824.80,215.50" fill="none" stroke="#231815" stroke-width="1.8" stroke-linejoin="round" />
<ellipse cx="828.50" cy="214.30" rx="2.40" ry="3.30" fill="none" stroke="#231815" stroke-width="1.5" transform="rotate(-20 828.50 214.30)"/>
<ellipse cx="834.00" cy="217.30" rx="2.40" ry="3.30" fill="none" stroke="#231815" stroke-width="1.5" transform="rotate(-20 834.00 217.30)"/>
<ellipse cx="839.50" cy="220.50" rx="2.40" ry="3.30" fill="none" stroke="#231815" stroke-width="1.5" transform="rotate(-20 839.50 220.50)"/>
<polygon points="925.00,268.50 944.00,279.30 944.00,290.20 925.00,279.40" fill="none" stroke="#231815" stroke-width="1.8" stroke-linejoin="round" />
<ellipse cx="929.00" cy="275.50" rx="2.40" ry="3.30" fill="none" stroke="#231815" stroke-width="1.5" transform="rotate(-20 929.00 275.50)"/>
<ellipse cx="934.50" cy="278.60" rx="2.40" ry="3.30" fill="none" stroke="#231815" stroke-width="1.5" transform="rotate(-20 934.50 278.60)"/>
<ellipse cx="940.00" cy="282.00" rx="2.40" ry="3.30" fill="none" stroke="#231815" stroke-width="1.5" transform="rotate(-20 940.00 282.00)"/>
<polyline points="921.89,266.43 921.89,276.44 926.76,278.94" fill="none" stroke="#231815" stroke-width="1.35" stroke-linejoin="round" />
<polyline points="921.89,266.43 927.45,269.21" fill="none" stroke="#231815" stroke-width="1.35" stroke-linejoin="round" />
<polyline points="949.01,281.72 954.58,284.51 954.58,312.32" fill="none" stroke="#231815" stroke-width="1.35" stroke-linejoin="round" />
<polyline points="935.80,286.59 935.80,302.59 946.23,308.15 946.23,292.85 943.45,291.46" fill="none" stroke="#231815" stroke-width="1.35" stroke-linejoin="round" />
<polyline points="926.76,301.20 929.54,302.59 929.54,305.37 936.50,308.85 936.50,303.28" fill="none" stroke="#231815" stroke-width="1.35" stroke-linejoin="round" />
<polyline points="955.97,312.32 975.44,301.20" fill="none" stroke="#231815" stroke-width="1.35" stroke-linejoin="round" />
<polyline points="955.97,302.59 974.05,292.85" fill="none" stroke="#231815" stroke-width="1.35" stroke-linejoin="round" />
<ellipse cx="908.70" cy="298.40" rx="5.00" ry="7.20" fill="#fff" stroke="#231815" stroke-width="1.2" transform="rotate(22 908.70 298.40)"/>
<polyline points="906.50,291.50 926.00,283.00" fill="none" stroke="#231815" stroke-width="1.35" stroke-linejoin="round" />
<polyline points="913.00,305.00 930.50,297.50" fill="none" stroke="#231815" stroke-width="1.35" stroke-linejoin="round" />
<path d="M926,283 Q931,286 930.5,297.5" fill="none" stroke="#231815" stroke-width="1.35" />
<polyline points="978.30,327.70 989.90,334.00 1043.20,304.90 1043.20,309.40" fill="none" stroke="#231815" stroke-width="1.35" stroke-linejoin="round" />
<polyline points="1037.70,293.30 1054.30,304.40 1055.20,311.60 990.30,346.40 968.30,333.20" fill="none" stroke="#231815" stroke-width="1.35" stroke-linejoin="round" />
<polyline points="1035.50,298.50 1043.20,304.40" fill="none" stroke="#231815" stroke-width="1.35" stroke-linejoin="round" />
<polyline points="1027.70,319.90 1054.30,304.40" fill="none" stroke="#231815" stroke-width="1.35" stroke-linejoin="round" />
<line x1="1027.70" y1="319.90" x2="1027.70" y2="325.20" stroke="#231815" stroke-width="1.35" />
<line x1="1031.00" y1="318.00" x2="1031.00" y2="323.40" stroke="#231815" stroke-width="1.35" />
<line x1="989.90" y1="334.00" x2="989.90" y2="346.40" stroke="#231815" stroke-width="1.35" />
<line x1="992.20" y1="335.00" x2="992.20" y2="345.50" stroke="#231815" stroke-width="0.9" />
<ellipse cx="990.70" cy="325.50" rx="8.00" ry="4.60" fill="none" stroke="#231815" stroke-width="1.3" transform="rotate(0 990.70 325.50)"/>
<ellipse cx="991.20" cy="326.00" rx="6.20" ry="3.40" fill="none" stroke="#231815" stroke-width="0.8" transform="rotate(0 991.20 326.00)"/>
<polyline points="952.80,313.20 974.60,300.90" fill="none" stroke="#231815" stroke-width="1.35" stroke-linejoin="round" />
<polyline points="952.80,313.20 962.30,318.70" fill="none" stroke="#231815" stroke-width="1.35" stroke-linejoin="round" />
<line x1="952.80" y1="284.30" x2="952.80" y2="313.20" stroke="#231815" stroke-width="1.35" />
<polyline points="949.50,282.40 952.80,284.30" fill="none" stroke="#231815" stroke-width="1.35" stroke-linejoin="round" />
<polyline points="958.60,321.80 1046.60,280.00" fill="none" stroke="#231815" stroke-width="1.35" stroke-linejoin="round" />
<polyline points="966.60,333.20 1034.40,293.90" fill="none" stroke="#231815" stroke-width="1.35" stroke-linejoin="round" />
<path d="M1034.4,293.9 Q1049,289 1046.6,280" fill="none" stroke="#231815" stroke-width="1.35" />
<ellipse cx="961.10" cy="328.60" rx="5.50" ry="7.10" fill="#fff" stroke="#231815" stroke-width="1.2" transform="rotate(20 961.10 328.60)"/>
<path d="M1020,303.3 Q1022.7,306 1027.7,305.5 Q1033.8,304.4 1033.8,298.3 L1033.8,292.7" fill="none" stroke="#231815" stroke-width="1.35" />
<line x1="1023.30" y1="299.10" x2="1032.20" y2="297.70" stroke="#231815" stroke-width="2.0" />
<polyline points="1161.48,212.56 1181.43,222.90 1181.43,236.19 1146.71,256.14 1146.71,252.44 1143.75,254.37 1143.75,257.91 1118.64,272.39" fill="none" stroke="#231815" stroke-width="1.35" stroke-linejoin="round" />
<polyline points="1181.43,222.90 1142.28,245.06" fill="none" stroke="#231815" stroke-width="1.35" stroke-linejoin="round" />
<polyline points="1161.48,212.56 1154.10,216.55" fill="none" stroke="#231815" stroke-width="1.35" stroke-linejoin="round" />
<ellipse cx="1165.20" cy="223.60" rx="7.40" ry="4.40" fill="none" stroke="#231815" stroke-width="1.4" transform="rotate(0 1165.20 223.60)"/>
<polyline points="1117.76,240.17 1117.76,273.79 1106.55,267.76 1106.55,265.17 1110.86,262.59 1114.31,262.59 1114.31,252.24" fill="none" stroke="#231815" stroke-width="1.35" stroke-linejoin="round" />
<polyline points="1122.07,240.17 1122.07,264.31 1135.00,257.41" fill="none" stroke="#231815" stroke-width="1.35" stroke-linejoin="round" />
<polyline points="1117.76,273.79 1135.00,263.88" fill="none" stroke="#231815" stroke-width="1.35" stroke-linejoin="round" />
<polyline points="1117.76,240.17 1122.07,238.45" fill="none" stroke="#231815" stroke-width="1.35" stroke-linejoin="round" />
<path d="M1121.5,236.5 C1125,233 1132,234 1131.5,240 L1131.5,246 C1130,250.5 1124,250.5 1122,248" fill="none" stroke="#231815" stroke-width="1.35" />
<ellipse cx="1125.50" cy="238.00" rx="2.50" ry="1.70" fill="none" stroke="#231815" stroke-width="1.0" transform="rotate(0 1125.50 238.00)"/>
<polyline points="1052.65,286.03 1052.65,297.24" fill="none" stroke="#231815" stroke-width="1.35" stroke-linejoin="round" />
<path d="M1052.6,297.2 Q1053.5,300 1059,300 Q1063,300 1065.5,297" fill="none" stroke="#231815" stroke-width="1.35" />
<polyline points="1065.46,281.63 1065.46,296.84" fill="none" stroke="#231815" stroke-width="1.35" stroke-linejoin="round" />
<polyline points="1065.50,297.00 1106.60,273.80 1106.60,265.20 1110.90,262.60 1114.30,262.60 1114.30,252.00" fill="none" stroke="#231815" stroke-width="1.35" stroke-linejoin="round" />
<polyline points="1042.24,280.66 1050.24,285.47 1069.86,274.02" fill="none" stroke="#231815" stroke-width="1.35" stroke-linejoin="round" />
<polyline points="1042.24,280.66 1047.84,277.46" fill="none" stroke="#231815" stroke-width="1.35" stroke-linejoin="round" />
<polyline points="1050.24,285.47 1050.24,286.67" fill="none" stroke="#231815" stroke-width="1.35" stroke-linejoin="round" />
<polyline points="1056.65,278.02 1056.65,282.83" fill="none" stroke="#231815" stroke-width="1.35" stroke-linejoin="round" />
<polyline points="1059.85,276.42 1059.85,282.83" fill="none" stroke="#231815" stroke-width="1.35" stroke-linejoin="round" />
<polyline points="1047.84,277.46 1067.06,266.97 1071.86,269.38 1071.86,274.02" fill="none" stroke="#231815" stroke-width="1.35" stroke-linejoin="round" />
<ellipse cx="1059.00" cy="271.20" rx="2.40" ry="1.40" fill="none" stroke="#231815" stroke-width="1.0" transform="rotate(0 1059.00 271.20)"/>
<polyline points="1066.03,268.19 1103.10,247.07" fill="none" stroke="#231815" stroke-width="1.35" stroke-linejoin="round" />
<polyline points="1072.93,269.48 1103.10,252.24" fill="none" stroke="#231815" stroke-width="2.2" stroke-linejoin="round" />
<polyline points="1072.93,274.22 1103.10,256.98" fill="none" stroke="#231815" stroke-width="2.2" stroke-linejoin="round" />
<polyline points="1072.93,271.21 1103.10,253.97" fill="none" stroke="#231815" stroke-width="0.8" stroke-linejoin="round" />
<polyline points="1072.93,272.76 1103.10,255.52" fill="none" stroke="#231815" stroke-width="0.8" stroke-linejoin="round" />
<polyline points="1072.93,268.62 1072.93,276.38" fill="none" stroke="#231815" stroke-width="1.35" stroke-linejoin="round" />
<polyline points="1103.10,247.07 1103.10,260.00" fill="none" stroke="#231815" stroke-width="1.35" stroke-linejoin="round" />
<polyline points="1065.17,275.52 1072.93,271.21" fill="none" stroke="#231815" stroke-width="1.35" stroke-linejoin="round" />
<polyline points="1072.93,276.38 1103.10,260.00" fill="none" stroke="#231815" stroke-width="1.35" stroke-linejoin="round" />
<polyline points="1103.10,260.00 1106.55,258.28 1106.55,265.17" fill="none" stroke="#231815" stroke-width="1.35" stroke-linejoin="round" />
<polyline points="1103.97,244.48 1112.59,240.17 1117.76,240.17" fill="none" stroke="#231815" stroke-width="1.35" stroke-linejoin="round" />
<polyline points="1103.97,244.48 1103.97,255.69" fill="none" stroke="#231815" stroke-width="1.35" stroke-linejoin="round" />
<polyline points="1108.28,250.52 1108.28,255.69" fill="none" stroke="#231815" stroke-width="1.35" stroke-linejoin="round" />
<ellipse cx="1108.50" cy="242.60" rx="2.50" ry="1.60" fill="none" stroke="#231815" stroke-width="1.0" transform="rotate(0 1108.50 242.60)"/>
<polygon points="799.90,181.80 990.30,291.30 990.30,307.70 799.90,194.60" fill="#fff" stroke="#231815" stroke-width="1.1" stroke-linejoin="round" />
<polygon points="990.30,291.30 1181.00,182.30 1181.00,199.30 990.30,307.70" fill="#fff" stroke="#231815" stroke-width="1.1" stroke-linejoin="round" />
<polygon points="799.90,181.80 990.60,72.00 1181.00,182.30 990.30,291.30" fill="#fff" stroke="#231815" stroke-width="1.1" stroke-linejoin="round" />
<polyline points="799.90,184.00 990.30,293.50 1181.00,184.50" fill="none" stroke="#231815" stroke-width="0.9" stroke-linejoin="round" />
<line x1="992.10" y1="293.50" x2="992.10" y2="307.70" stroke="#231815" stroke-width="0.9" />
<line x1="840.30" y1="205.00" x2="1030.20" y2="95.10" stroke="#231815" stroke-width="1.1" />
<line x1="925.70" y1="254.10" x2="1115.80" y2="145.00" stroke="#231815" stroke-width="1.1" />
<line x1="887.50" y1="131.00" x2="904.00" y2="121.60" stroke="#fff" stroke-width="3.2" />
<line x1="886.60" y1="131.70" x2="889.60" y2="133.40" stroke="#231815" stroke-width="1.1" />
<ellipse cx="902.10" cy="130.20" rx="13.30" ry="7.30" fill="#fff" stroke="#231815" stroke-width="1.2" transform="rotate(0 902.10 130.20)"/>
<path d="M904.5,122.9 A13.3,7.3 0 0 1 915.2,131.5" fill="none" stroke="#231815" stroke-width="2.0" />
<ellipse cx="902.10" cy="130.60" rx="3.30" ry="2.00" fill="none" stroke="#231815" stroke-width="1.2" transform="rotate(0 902.10 130.60)"/>
<ellipse cx="860.20" cy="191.60" rx="10.60" ry="6.30" fill="#fff" stroke="#231815" stroke-width="1.0" transform="rotate(0 860.20 191.60)"/>
<ellipse cx="860.50" cy="191.90" rx="8.40" ry="5.00" fill="none" stroke="#231815" stroke-width="2.0" transform="rotate(0 860.50 191.90)"/>
<ellipse cx="860.70" cy="191.80" rx="3.60" ry="2.10" fill="none" stroke="#231815" stroke-width="0.9" transform="rotate(0 860.70 191.80)"/>
<ellipse cx="860.70" cy="191.80" rx="1.30" ry="0.80" fill="none" stroke="#231815" stroke-width="0.7" transform="rotate(0 860.70 191.80)"/>
<ellipse cx="889.70" cy="174.80" rx="10.60" ry="6.30" fill="#fff" stroke="#231815" stroke-width="1.0" transform="rotate(0 889.70 174.80)"/>
<ellipse cx="890.00" cy="175.10" rx="8.40" ry="5.00" fill="none" stroke="#231815" stroke-width="2.0" transform="rotate(0 890.00 175.10)"/>
<ellipse cx="890.20" cy="175.00" rx="3.60" ry="2.10" fill="none" stroke="#231815" stroke-width="0.9" transform="rotate(0 890.20 175.00)"/>
<ellipse cx="890.20" cy="175.00" rx="1.30" ry="0.80" fill="none" stroke="#231815" stroke-width="0.7" transform="rotate(0 890.20 175.00)"/>
<ellipse cx="919.30" cy="158.10" rx="10.60" ry="6.30" fill="#fff" stroke="#231815" stroke-width="1.0" transform="rotate(0 919.30 158.10)"/>
<ellipse cx="919.60" cy="158.40" rx="8.40" ry="5.00" fill="none" stroke="#231815" stroke-width="2.0" transform="rotate(0 919.60 158.40)"/>
<ellipse cx="919.80" cy="158.30" rx="3.60" ry="2.10" fill="none" stroke="#231815" stroke-width="0.9" transform="rotate(0 919.80 158.30)"/>
<ellipse cx="919.80" cy="158.30" rx="1.30" ry="0.80" fill="none" stroke="#231815" stroke-width="0.7" transform="rotate(0 919.80 158.30)"/>
<ellipse cx="948.80" cy="140.90" rx="10.60" ry="6.30" fill="#fff" stroke="#231815" stroke-width="1.0" transform="rotate(0 948.80 140.90)"/>
<ellipse cx="949.10" cy="141.20" rx="8.40" ry="5.00" fill="none" stroke="#231815" stroke-width="2.0" transform="rotate(0 949.10 141.20)"/>
<ellipse cx="949.30" cy="141.10" rx="3.60" ry="2.10" fill="none" stroke="#231815" stroke-width="0.9" transform="rotate(0 949.30 141.10)"/>
<ellipse cx="949.30" cy="141.10" rx="1.30" ry="0.80" fill="none" stroke="#231815" stroke-width="0.7" transform="rotate(0 949.30 141.10)"/>
<ellipse cx="978.40" cy="123.90" rx="10.60" ry="6.30" fill="#fff" stroke="#231815" stroke-width="1.0" transform="rotate(0 978.40 123.90)"/>
<ellipse cx="978.70" cy="124.20" rx="8.40" ry="5.00" fill="none" stroke="#231815" stroke-width="2.0" transform="rotate(0 978.70 124.20)"/>
<ellipse cx="978.90" cy="124.10" rx="3.60" ry="2.10" fill="none" stroke="#231815" stroke-width="0.9" transform="rotate(0 978.90 124.10)"/>
<ellipse cx="978.90" cy="124.10" rx="1.30" ry="0.80" fill="none" stroke="#231815" stroke-width="0.7" transform="rotate(0 978.90 124.10)"/>
<ellipse cx="1008.00" cy="106.80" rx="10.60" ry="6.30" fill="#fff" stroke="#231815" stroke-width="1.0" transform="rotate(0 1008.00 106.80)"/>
<ellipse cx="1008.30" cy="107.10" rx="8.40" ry="5.00" fill="none" stroke="#231815" stroke-width="2.0" transform="rotate(0 1008.30 107.10)"/>
<ellipse cx="1008.50" cy="107.00" rx="3.60" ry="2.10" fill="none" stroke="#231815" stroke-width="0.9" transform="rotate(0 1008.50 107.00)"/>
<ellipse cx="1008.50" cy="107.00" rx="1.30" ry="0.80" fill="none" stroke="#231815" stroke-width="0.7" transform="rotate(0 1008.50 107.00)"/>
<ellipse cx="1096.60" cy="158.30" rx="10.60" ry="6.30" fill="#fff" stroke="#231815" stroke-width="1.0" transform="rotate(0 1096.60 158.30)"/>
<ellipse cx="1096.90" cy="158.60" rx="8.40" ry="5.00" fill="none" stroke="#231815" stroke-width="2.0" transform="rotate(0 1096.90 158.60)"/>
<ellipse cx="1097.10" cy="158.50" rx="3.60" ry="2.10" fill="none" stroke="#231815" stroke-width="0.9" transform="rotate(0 1097.10 158.50)"/>
<ellipse cx="1097.10" cy="158.50" rx="1.30" ry="0.80" fill="none" stroke="#231815" stroke-width="0.7" transform="rotate(0 1097.10 158.50)"/>
<ellipse cx="1067.00" cy="175.10" rx="10.60" ry="6.30" fill="#fff" stroke="#231815" stroke-width="1.0" transform="rotate(0 1067.00 175.10)"/>
<ellipse cx="1067.30" cy="175.40" rx="8.40" ry="5.00" fill="none" stroke="#231815" stroke-width="2.0" transform="rotate(0 1067.30 175.40)"/>
<ellipse cx="1067.50" cy="175.30" rx="3.60" ry="2.10" fill="none" stroke="#231815" stroke-width="0.9" transform="rotate(0 1067.50 175.30)"/>
<ellipse cx="1067.50" cy="175.30" rx="1.30" ry="0.80" fill="none" stroke="#231815" stroke-width="0.7" transform="rotate(0 1067.50 175.30)"/>
<ellipse cx="1037.50" cy="191.90" rx="10.60" ry="6.30" fill="#fff" stroke="#231815" stroke-width="1.0" transform="rotate(0 1037.50 191.90)"/>
<ellipse cx="1037.80" cy="192.20" rx="8.40" ry="5.00" fill="none" stroke="#231815" stroke-width="2.0" transform="rotate(0 1037.80 192.20)"/>
<ellipse cx="1038.00" cy="192.10" rx="3.60" ry="2.10" fill="none" stroke="#231815" stroke-width="0.9" transform="rotate(0 1038.00 192.10)"/>
<ellipse cx="1038.00" cy="192.10" rx="1.30" ry="0.80" fill="none" stroke="#231815" stroke-width="0.7" transform="rotate(0 1038.00 192.10)"/>
<ellipse cx="1008.00" cy="208.30" rx="10.60" ry="6.30" fill="#fff" stroke="#231815" stroke-width="1.0" transform="rotate(0 1008.00 208.30)"/>
<ellipse cx="1008.30" cy="208.60" rx="8.40" ry="5.00" fill="none" stroke="#231815" stroke-width="2.0" transform="rotate(0 1008.30 208.60)"/>
<ellipse cx="1008.50" cy="208.50" rx="3.60" ry="2.10" fill="none" stroke="#231815" stroke-width="0.9" transform="rotate(0 1008.50 208.50)"/>
<ellipse cx="1008.50" cy="208.50" rx="1.30" ry="0.80" fill="none" stroke="#231815" stroke-width="0.7" transform="rotate(0 1008.50 208.50)"/>
<ellipse cx="978.40" cy="226.00" rx="10.60" ry="6.30" fill="#fff" stroke="#231815" stroke-width="1.0" transform="rotate(0 978.40 226.00)"/>
<ellipse cx="978.70" cy="226.30" rx="8.40" ry="5.00" fill="none" stroke="#231815" stroke-width="2.0" transform="rotate(0 978.70 226.30)"/>
<ellipse cx="978.90" cy="226.20" rx="3.60" ry="2.10" fill="none" stroke="#231815" stroke-width="0.9" transform="rotate(0 978.90 226.20)"/>
<ellipse cx="978.90" cy="226.20" rx="1.30" ry="0.80" fill="none" stroke="#231815" stroke-width="0.7" transform="rotate(0 978.90 226.20)"/>
<ellipse cx="948.80" cy="242.90" rx="10.60" ry="6.30" fill="#fff" stroke="#231815" stroke-width="1.0" transform="rotate(0 948.80 242.90)"/>
<ellipse cx="949.10" cy="243.20" rx="8.40" ry="5.00" fill="none" stroke="#231815" stroke-width="2.0" transform="rotate(0 949.10 243.20)"/>
<ellipse cx="949.30" cy="243.10" rx="3.60" ry="2.10" fill="none" stroke="#231815" stroke-width="0.9" transform="rotate(0 949.30 243.10)"/>
<ellipse cx="949.30" cy="243.10" rx="1.30" ry="0.80" fill="none" stroke="#231815" stroke-width="0.7" transform="rotate(0 949.30 243.10)"/>
<ellipse cx="815.90" cy="181.00" rx="6.00" ry="3.70" fill="none" stroke="#231815" stroke-width="1.6" transform="rotate(0 815.90 181.00)"/>
<ellipse cx="989.50" cy="80.00" rx="6.00" ry="3.70" fill="none" stroke="#231815" stroke-width="1.6" transform="rotate(0 989.50 80.00)"/>
<ellipse cx="1165.30" cy="181.00" rx="6.00" ry="3.70" fill="none" stroke="#231815" stroke-width="1.6" transform="rotate(0 1165.30 181.00)"/>
<ellipse cx="990.60" cy="282.10" rx="6.00" ry="3.70" fill="none" stroke="#231815" stroke-width="1.6" transform="rotate(0 990.60 282.10)"/>
<ellipse cx="845.40" cy="182.30" rx="4.80" ry="2.90" fill="none" stroke="#231815" stroke-width="1.4" transform="rotate(0 845.40 182.30)"/>
<ellipse cx="993.20" cy="97.50" rx="4.80" ry="2.90" fill="none" stroke="#231815" stroke-width="1.4" transform="rotate(0 993.20 97.50)"/>
<ellipse cx="1111.70" cy="165.70" rx="4.80" ry="2.90" fill="none" stroke="#231815" stroke-width="1.4" transform="rotate(0 1111.70 165.70)"/>
<ellipse cx="963.60" cy="252.10" rx="4.80" ry="2.90" fill="none" stroke="#231815" stroke-width="1.4" transform="rotate(0 963.60 252.10)"/>
<ellipse cx="1123.70" cy="201.30" rx="9.20" ry="5.50" fill="none" stroke="#231815" stroke-width="1.4" transform="rotate(0 1123.70 201.30)"/>
<ellipse cx="1024.60" cy="257.60" rx="9.00" ry="5.40" fill="none" stroke="#231815" stroke-width="1.4" transform="rotate(0 1024.60 257.60)"/>
</svg></body></html>
